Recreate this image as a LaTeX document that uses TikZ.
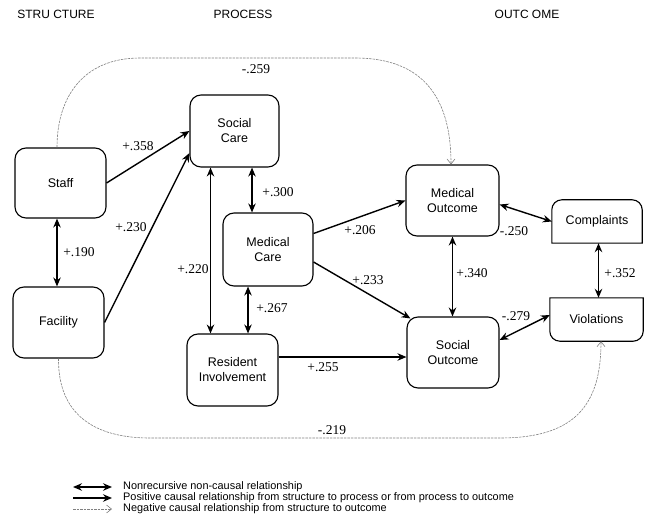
\documentclass[tikz,border=0pt]{standalone}
\usepackage{fontspec}
\setmainfont{Liberation Sans}
\newfontfamily\numfont{Liberation Serif}
\usetikzlibrary{arrows.meta,calc}
\begin{document}
\begin{tikzpicture}[x=1pt,y=-1pt,
  box/.style={draw,line width=1.1pt,rounded corners=11pt,align=center,
    font=\fontsize{12.5}{15}\selectfont,inner sep=0pt},
  flat/.style={align=center,font=\fontsize{12.5}{15}\selectfont,inner sep=0pt},
  hdr/.style={font=\fontsize{12}{14}\selectfont,inner sep=0pt},
  num/.style={font=\numfont\fontsize{13.5}{15}\selectfont,inner sep=0pt},
  leg/.style={font=\fontsize{10.9}{12}\selectfont,inner sep=0pt,anchor=west},
  tp/.tip={Stealth[length=9pt,width=7.5pt,inset=3pt]},
  ar/.style={line width=1.4pt,-tp},
  dar/.style={line width=1.4pt,tp-tp},
  thindar/.style={line width=1pt,tp-tp},
  neg/.style={gray,line width=0.6pt,dash pattern=on 2.5pt off 1pt,
    -{Straight Barb[length=5pt,width=8pt]}},
  edge/.style={line width=1.1pt}
]
\useasboundingbox (0,0) rectangle (652,518);

% headers
\node[hdr] (h1) at (56,14) {STRU CTURE};
\node[hdr] (h2) at (243,14) {PROCESS};
\node[hdr] (h3) at (527,14) {OUTC OME};

% nodes
\node[box,minimum width=91pt,minimum height=70pt] (staff) at (60.5,183) {Staff};
\node[box,minimum width=91pt,minimum height=71pt] (fac) at (58.5,322.5) {Facility};
\node[box,minimum width=89pt,minimum height=72pt] (sc) at (234.5,131) {Social\\Care};
\node[box,minimum width=90pt,minimum height=73pt] (mc) at (268,249.5) {Medical\\Care};
\node[box,minimum width=91pt,minimum height=72pt] (ri) at (232.5,370) {Resident\\Involvement};
\node[box,minimum width=93pt,minimum height=71pt] (mo) at (452.5,200.5) {Medical\\Outcome};
\node[box,minimum width=92pt,minimum height=71pt] (so) at (453,352.5) {Social\\Outcome};
\node[flat,minimum width=90pt,minimum height=43pt] (comp) at (597,221.5) {Complaints};
\node[flat,minimum width=93pt,minimum height=43pt] (viol) at (596.5,319.5) {Violations};

% Complaints: rounded top corners
\draw[edge] (comp.south west) -- ([yshift=-10pt]comp.north west)
  arc[start angle=180,end angle=90,radius=10pt]
  -- ([xshift=-10pt]comp.north east)
  arc[start angle=90,end angle=0,radius=10pt]
  -- (comp.south east) -- cycle;
% Violations: rounded bottom corners
\draw[edge] (viol.north west) -- ([yshift=10pt]viol.south west)
  arc[start angle=180,end angle=270,radius=10pt]
  -- ([xshift=-10pt]viol.south east)
  arc[start angle=270,end angle=360,radius=10pt]
  -- (viol.north east) -- cycle;

% solid causal arrows
\draw[ar] (staff.east) -- (sc.west);
\draw[ar] (fac.east) -- ([yshift=-22pt]sc.west);
\draw[ar] ([yshift=16pt]mc.east) -- (mo.west);
\draw[ar] ([yshift=-12.5pt]mc.east) -- ([shift={(4pt,-2pt)}]so.north west);
\draw[ar] ([yshift=13pt]ri.east) -- ([yshift=13pt]ri.east -| so.west);

% non-causal double arrows
\draw[dar] ([xshift=-3.5pt]staff.south) -- ([xshift=-3.5pt]staff.south |- fac.north);
\draw[thindar] ([xshift=-24pt]sc.south) -- ([xshift=-24pt]sc.south |- ri.north);
\draw[dar] ([xshift=17.5pt]sc.south) -- ([xshift=17.5pt]sc.south |- mc.north);
\draw[dar] ([xshift=-20pt]mc.south) -- ([xshift=-20pt]mc.south |- ri.north);
\draw[dar] (mo.south) -- (mo.south |- so.north);
\draw[dar] ([yshift=-4pt]mo.east) -- (comp.west);
\draw[dar] ([yshift=12.5pt]so.east) -- ([yshift=4.5pt]viol.west);
\draw[dar] ([xshift=1.5pt]comp.south) -- ([xshift=1.5pt]comp.south |- viol.north);

% negative causal curves
\coordinate (t1) at (140,58);
\coordinate (t2) at (355,58);
\draw[neg] ([xshift=-3.5pt]staff.north) .. controls (57,95) and (85,58) .. (t1)
  -- (t2) .. controls (425,58) and (451,100) .. ([xshift=-1.5pt]mo.north);
\coordinate (b1) at (150,438);
\coordinate (b2) at (500,438);
\draw[neg] (fac.south) .. controls (58,415) and (95,438) .. (b1)
  -- (b2) .. controls (575,438) and (601,405) .. ([xshift=4.5pt]viol.south);

% labels
\node[num] (l1) at (256,69) {-.259};
\node[num] (l2) at (138,146) {+.358};
\node[num] (l3) at (278,192) {+.300};
\node[num] (l4) at (131,227) {+.230};
\node[num] (l5) at (79,252) {+.190};
\node[num] (l6) at (193,269) {+.220};
\node[num] (l7) at (272,308) {+.267};
\node[num] (l8) at (360,230) {+.206};
\node[num] (l9) at (514,231) {-.250};
\node[num] (l10) at (368,280) {+.233};
\node[num] (l11) at (472,273) {+.340};
\node[num] (l12) at (620,273) {+.352};
\node[num] (l13) at (516,316) {-.279};
\node[num] (l14) at (323,367) {+.255};
\node[num] (l15) at (332,430) {-.219};

% legend
\coordinate (a1) at (73,487); \coordinate (a2) at (112,487);
\coordinate (b3) at (73,498); \coordinate (b4) at (112,498);
\coordinate (c1) at (73,509); \coordinate (c2) at (112,509);
\draw[dar] (a1) -- (a2);
\draw[ar] (b3) -- (b4);
\draw[neg] (c1) -- (c2);
\node[leg] (g1) at (123,487) {Nonrecursive non-causal relationship};
\node[leg] (g2) at (123,498) {Positive causal relationship from structure to process or from process to outcome};
\node[leg] (g3) at (123,509) {Negative causal relationship from structure to outcome};
\end{tikzpicture}
\end{document}
